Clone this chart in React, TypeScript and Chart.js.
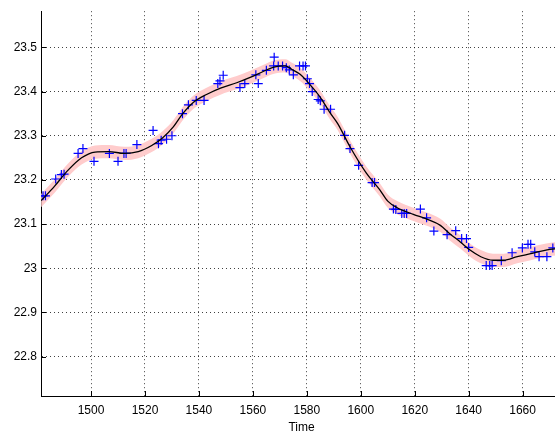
import React, { useEffect, useRef } from "react";
import { Chart, registerables } from "chart.js";

Chart.register(...registerables);

// Observed samples (blue crosses)
const obsTime = [
  1482.2, 1483.1, 1486.9, 1489.0, 1490.0, 1495.2, 1497.0, 1501.1, 1506.8, 1510.0,
  1512.2, 1513.0, 1517.0, 1523.0, 1525.0, 1526.0, 1528.0, 1530.0, 1533.9, 1536.1,
  1539.0, 1541.9, 1547.0, 1547.8, 1549.0, 1555.2, 1557.0, 1561.1, 1562.0, 1565.0,
  1567.9, 1567.7, 1569.4, 1571.0, 1572.4, 1573.5, 1575.0, 1577.3, 1578.6, 1579.5,
  1580.2, 1581.0, 1582.0, 1584.2, 1585.0, 1586.4, 1588.8, 1594.0, 1596.0, 1599.2,
  1604.2, 1605.1, 1612.1, 1613.0, 1615.2, 1616.1, 1617.0, 1622.1, 1624.4, 1627.1,
  1632.0, 1635.2, 1637.4, 1639.2, 1640.0, 1646.5, 1647.8, 1648.7, 1652.1, 1656.1,
  1659.9, 1662.0, 1663.0, 1664.5, 1666.1, 1669.0, 1671.2,
];
const obsValue = [
  23.164, 23.164, 23.202, 23.212, 23.213, 23.260, 23.271, 23.242, 23.260, 23.242,
  23.260, 23.260, 23.280, 23.312, 23.282, 23.290, 23.292, 23.300, 23.350, 23.370,
  23.380, 23.380, 23.418, 23.424, 23.437, 23.409, 23.418, 23.438, 23.418, 23.448,
  23.478, 23.458, 23.458, 23.458, 23.454, 23.449, 23.438, 23.458, 23.458, 23.458,
  23.429, 23.418, 23.400, 23.382, 23.379, 23.360, 23.360, 23.301, 23.271, 23.233,
  23.194, 23.194, 23.134, 23.133, 23.124, 23.124, 23.124, 23.134, 23.114, 23.084,
  23.076, 23.085, 23.067, 23.067, 23.047, 23.006, 23.006, 23.006, 23.017, 23.035,
  23.046, 23.054, 23.054, 23.037, 23.026, 23.026, 23.046,
];

// Smoothed fit (black line)
const fitTime = [
  1481.5, 1486.5, 1491.5, 1496.5, 1501.5, 1506.5, 1512.5, 1517.5, 1522.5, 1526.5,
  1530.5, 1534, 1538, 1543, 1548, 1554, 1559, 1564, 1567.5, 1572,
  1574.5, 1577.5, 1581, 1585, 1588.5, 1591.5, 1596, 1602, 1607, 1610,
  1613.5, 1619.5, 1624.5, 1629.5, 1633, 1637, 1640.5, 1644.5, 1649, 1653,
  1658, 1663, 1666.5, 1671, 1674.6,
];
const fitValue = [
  23.153, 23.186, 23.222, 23.250, 23.263, 23.264, 23.260, 23.264, 23.278, 23.295,
  23.320, 23.350, 23.376, 23.394, 23.408, 23.420, 23.432, 23.446, 23.455, 23.458,
  23.450, 23.439, 23.417, 23.387, 23.353, 23.327, 23.275, 23.216, 23.178, 23.152,
  23.137, 23.122, 23.111, 23.097, 23.078, 23.059, 23.041, 23.026, 23.018, 23.018,
  23.026, 23.033, 23.038, 23.043, 23.045,
];
// Half-width of the confidence band around the fit
const bandHalf = 0.015;

const xTicks = [1500, 1520, 1540, 1560, 1580, 1600, 1620, 1640, 1660];
const yTicks = [22.8, 22.9, 23.0, 23.1, 23.2, 23.3, 23.4, 23.5];
const xLimits = [1481.45, 1674.6];
const yLimits = [22.7106, 23.582];
const xLabel = "Time";

const inwardTicks = {
  id: "inwardTicks",
  afterDraw(chart: any) {
    const { ctx, chartArea, scales } = chart;
    ctx.save();
    ctx.strokeStyle = "#000";
    ctx.lineWidth = 1;
    ctx.beginPath();
    for (const v of xTicks) {
      const px = Math.round(scales.x.getPixelForValue(v)) + 0.5;
      ctx.moveTo(px, chartArea.bottom);
      ctx.lineTo(px, chartArea.bottom - 5);
    }
    for (const v of yTicks) {
      const py = Math.round(scales.y.getPixelForValue(v)) + 0.5;
      ctx.moveTo(chartArea.left, py);
      ctx.lineTo(chartArea.left + 5, py);
    }
    ctx.stroke();
    ctx.restore();
  },
};

export default function App() {
  const ref = useRef<HTMLCanvasElement | null>(null);

  useEffect(() => {
    if (!ref.current) return;
    const fit = fitTime.map((t, i) => ({ x: t, y: fitValue[i] }));
    const lower = fitTime.map((t, i) => ({ x: t, y: fitValue[i] - bandHalf }));
    const upper = fitTime.map((t, i) => ({ x: t, y: fitValue[i] + bandHalf }));
    const obs = obsTime.map((t, i) => ({ x: t, y: obsValue[i] }));

    const chart = new Chart(ref.current, {
      type: "scatter",
      data: {
        datasets: [
          {
            data: lower,
            showLine: true,
            borderWidth: 0,
            borderColor: "rgba(0,0,0,0)",
            pointRadius: 0,
            fill: false,
            cubicInterpolationMode: "monotone",
            order: 4,
          } as any,
          {
            data: upper,
            showLine: true,
            borderWidth: 0,
            borderColor: "rgba(0,0,0,0)",
            backgroundColor: "rgb(255,204,204)",
            pointRadius: 0,
            fill: "-1",
            cubicInterpolationMode: "monotone",
            order: 3,
          } as any,
          {
            data: obs,
            pointStyle: "cross",
            pointRadius: 4.5,
            pointBorderWidth: 1.2,
            borderColor: "rgb(0,0,255)",
            backgroundColor: "rgb(0,0,255)",
            showLine: false,
            order: 2,
          } as any,
          {
            data: fit,
            showLine: true,
            borderWidth: 1.3,
            borderColor: "#000",
            pointRadius: 0,
            fill: false,
            cubicInterpolationMode: "monotone",
            order: 1,
          } as any,
        ],
      },
      options: {
        animation: false,
        responsive: false,
        devicePixelRatio: 1,
        layout: { padding: { left: 0, right: 13, top: 6, bottom: 0 } },
        plugins: {
          legend: { display: false },
          tooltip: { enabled: false },
        },
        scales: {
          x: {
            type: "linear",
            min: xLimits[0],
            max: xLimits[1],
            afterBuildTicks: (s: any) => {
              s.ticks = xTicks.map((v) => ({ value: v }));
            },
            afterFit: (s: any) => {
              s.height = 38;
            },
            ticks: {
              color: "#000",
              font: { family: "Liberation Sans", size: 12 },
              padding: 7,
              maxRotation: 0,
              callback: (v: any) => String(v),
            },
            grid: { color: "rgba(0,0,0,0.75)", lineWidth: 1, drawTicks: false },
            border: { display: true, color: "#000", width: 1, dash: [1, 3] },
            title: {
              display: true,
              text: xLabel,
              color: "#000",
              font: { family: "Liberation Sans", size: 12 },
              padding: { top: 0, bottom: -1 },
            },
          },
          y: {
            type: "linear",
            min: yLimits[0],
            max: yLimits[1],
            afterBuildTicks: (s: any) => {
              s.ticks = yTicks.map((v) => ({ value: v }));
            },
            afterFit: (s: any) => {
              s.width = 41;
            },
            ticks: {
              color: "#000",
              font: { family: "Liberation Sans", size: 12 },
              padding: 4,
              callback: (v: any) => String(Number(Number(v).toFixed(1))),
            },
            grid: { color: "rgba(0,0,0,0.75)", lineWidth: 1, drawTicks: false },
            border: { display: true, color: "#000", width: 1, dash: [1, 3] },
          },
        },
      },
      plugins: [inwardTicks],
    });
    return () => chart.destroy();
  }, []);

  return (
    <div
      style={{
        position: "fixed",
        left: 0,
        top: 0,
        width: 555,
        height: 434,
        overflow: "hidden",
        background: "#fff",
      }}
    >
      <canvas ref={ref} width={575} height={434} style={{ width: 575, height: 434, display: "block" }} />
    </div>
  );
}
